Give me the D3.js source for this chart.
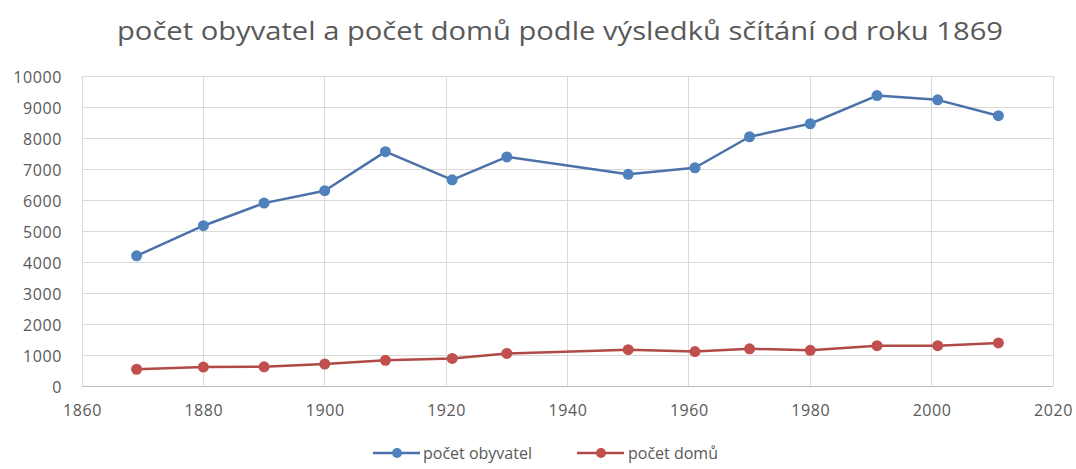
<!DOCTYPE html>
<html><head><meta charset="utf-8">
<script src="https://cdn.jsdelivr.net/npm/d3@7"></script>
<style>body{margin:0;background:#fff}</style>
</head><body>
<svg id="c" width="1076" height="469"></svg>
<script>
const years = [1869,1880,1890,1900,1910,1921,1930,1950,1961,1970,1980,1991,2001,2011];
const obyvatel = [4200,5170,5900,6300,7560,6650,7390,6830,7040,8040,8460,9370,9230,8720];
const domu = [540,610,620,710,830,890,1050,1170,1110,1200,1150,1300,1300,1390];
const seriesNames = ["počet obyvatel","počet domů"];
const xTicks = [1860,1880,1900,1920,1940,1960,1980,2000,2020];
const yTicks = [0,1000,2000,3000,4000,5000,6000,7000,8000,9000,10000];
const title = "počet obyvatel a počet domů podle výsledků sčítání od roku 1869";

const svg = d3.select("#c");
const font = "'Open Sans', 'Liberation Sans', sans-serif";
const x = d3.scaleLinear().domain([1860,2020]).range([82,1053]);
const y = d3.scaleLinear().domain([0,10000]).range([386,76]);
const txt = "#595959";

svg.append("text").attr("x",560).attr("y",40).attr("text-anchor","middle")
  .attr("font-family",font).attr("font-size",26).attr("fill",txt)
  .attr("textLength",886).attr("lengthAdjust","spacingAndGlyphs").text(title);

// grid
svg.append("g").selectAll("line").data(yTicks).join("line")
  .attr("x1",x(1860)).attr("x2",x(2020)).attr("y1",d=>y(d)).attr("y2",d=>y(d))
  .attr("stroke",d=>d===0?"#bfbfbf":"#d9d9d9").attr("stroke-width",1).attr("shape-rendering","crispEdges");
svg.append("g").selectAll("line").data(xTicks).join("line")
  .attr("y1",y(0)).attr("y2",y(10000)).attr("x1",d=>x(d)).attr("x2",d=>x(d))
  .attr("stroke","#d9d9d9").attr("stroke-width",1).attr("shape-rendering","crispEdges");

// axes labels
const yAxis = d3.axisLeft(y).tickValues(yTicks).tickFormat(d3.format("d")).tickSize(0).tickPadding(0);
const gy = svg.append("g").attr("transform","translate(62,1)").call(yAxis);
gy.select(".domain").remove();
gy.selectAll("text").attr("font-family",font).attr("font-size",16).attr("fill",txt).attr("letter-spacing",0.6);

const xAxis = d3.axisBottom(x).tickValues(xTicks).tickFormat(d3.format("d")).tickSize(0).tickPadding(0);
const gx = svg.append("g").attr("transform","translate(0,405)").call(xAxis);
gx.select(".domain").remove();
gx.selectAll("text").attr("font-family",font).attr("font-size",16).attr("fill",txt).attr("letter-spacing",0.6);

const colors = ["#4f81bd","#c0504d"];
const lineCols = ["#4a72a8","#b04a47"];
const data = [obyvatel, domu];
const line = d3.line().x((d,i)=>x(years[i])).y(d=>y(d));
data.forEach((s,k)=>{
  svg.append("path").datum(s).attr("d",line).attr("fill","none")
    .attr("stroke",lineCols[k]).attr("stroke-width",2.5).attr("stroke-linejoin","round");
  svg.append("g").selectAll("circle").data(s).join("circle")
    .attr("cx",(d,i)=>x(years[i])).attr("cy",d=>y(d)).attr("r",5.5).attr("fill",colors[k]);
});

// legend
const lg = [{x:373, tx:423},{x:577, tx:628}];
lg.forEach((p,k)=>{
  const g = svg.append("g");
  g.append("line").attr("x1",p.x).attr("x2",p.x+47).attr("y1",453).attr("y2",453)
    .attr("stroke",lineCols[k]).attr("stroke-width",2.5);
  g.append("circle").attr("cx",p.x+24).attr("cy",453).attr("r",5).attr("fill",colors[k]);
  g.append("text").attr("x",p.tx).attr("y",459).attr("font-family",font).attr("font-size",16)
    .attr("fill",txt).text(seriesNames[k]);
});
</script>
</body></html>
